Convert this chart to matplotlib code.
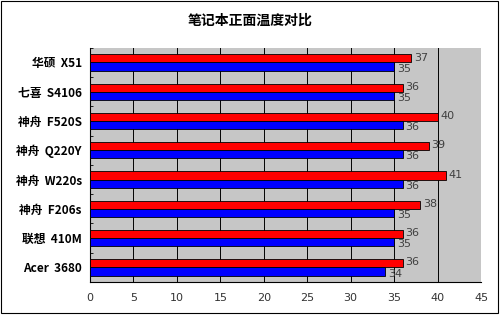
import numpy as np
import matplotlib
matplotlib.use("Agg")
import matplotlib.pyplot as plt
from matplotlib.patches import Rectangle

# data, top to bottom as shown in the chart
MODELS = ["华硕  X51", "七喜  S4106", "神舟  F520S", "神舟  Q220Y",
          "神舟  W220s", "神舟  F206s", "联想  410M", "Acer  3680"]
RED_VALS = [37, 36, 40, 39, 41, 38, 36, 36]
BLUE_VALS = [35, 35, 36, 36, 36, 35, 35, 34]
X_TICKS = [0, 5, 10, 15, 20, 25, 30, 35, 40, 45]
TITLE = "笔记本正面温度对比"

CJK = ["Noto Sans CJK SC", "DejaVu Sans"]

fig = plt.figure(figsize=(5.0, 3.19), dpi=100)
ax = fig.add_axes([0.18, 0.116, 0.782, 0.734])
ax.set_facecolor("#c6c6c6")

n = len(MODELS)
y = np.arange(n)
h = 0.28
ax.barh(y - h / 2, RED_VALS, height=h, color="#ff0000", edgecolor="black",
        linewidth=0.6, zorder=3)
ax.barh(y + h / 2, BLUE_VALS, height=h, color="#0000ff", edgecolor="black",
        linewidth=0.6, zorder=3)

# value labels (they touch each other in the original too)
for yi, r, b in zip(y, RED_VALS, BLUE_VALS):
    ax.text(r + 0.3, yi - h / 2 - 0.03, str(r), va="center", ha="left",
            fontsize=8, color="#404040", zorder=4)
    ax.text(b + 0.3, yi + h / 2 + 0.07, str(b), va="center", ha="left",
            fontsize=8, color="#404040", zorder=4)

ax.set_xlim(0, 45)
ax.set_ylim(n - 0.5, -0.5)
ax.set_xticks(X_TICKS)
ax.set_xticklabels([str(t) for t in X_TICKS], fontsize=8, color="#333333")
ax.set_yticks(y)
ax.set_yticklabels(MODELS, family=CJK, fontweight="bold", fontsize=8.5)
ax.set_yticks(np.arange(n + 1) - 0.5, minor=True)
ax.tick_params(axis="y", which="major", length=0, pad=6)
ax.tick_params(axis="y", which="minor", length=2, direction="in", width=0.6)
ax.tick_params(axis="x", length=0, pad=8)

ax.grid(True, axis="x", color="black", linewidth=0.7, zorder=1)
ax.set_axisbelow(True)
for side in ("top", "right"):
    ax.spines[side].set_visible(False)
ax.spines["left"].set_linewidth(0.8)
ax.spines["bottom"].set_linewidth(0.8)

fig.text(0.5, 0.935, TITLE, ha="center", va="center", family=CJK,
         fontweight="bold", fontsize=10)

# outer border of the picture
fig.patches.append(Rectangle((0.002, 0.018), 0.994, 0.978, transform=fig.transFigure,
                             fill=False, edgecolor="black", linewidth=0.8))

fig.savefig("out.png", dpi=100)
